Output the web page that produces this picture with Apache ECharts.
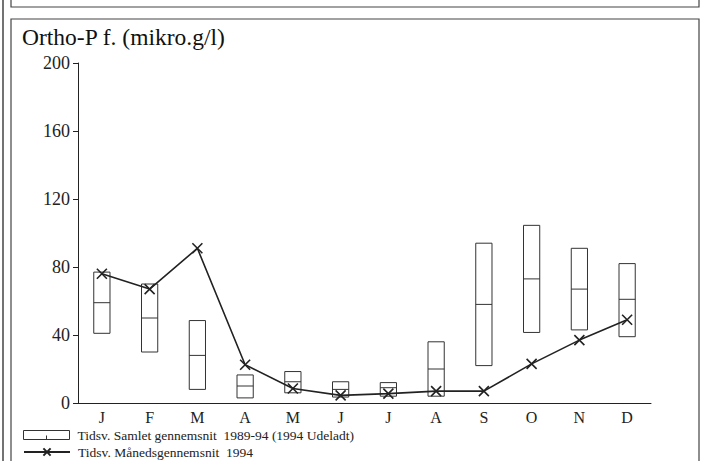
<!DOCTYPE html>
<html>
<head>
<meta charset="utf-8">
<script src="https://cdn.jsdelivr.net/npm/echarts@6/dist/echarts.min.js"></script>
<style>
  html, body { margin: 0; padding: 0; background: #fff; }
  #chart { width: 712px; height: 461px; }
</style>
</head>
<body>
<div id="chart"></div>
<script>
// Month initials along the x axis
const months = ['J', 'F', 'M', 'A', 'M', 'J', 'J', 'A', 'S', 'O', 'N', 'D'];
// Time-weighted overall average 1989-94 (1994 excluded): low, middle, high per month
const boxLow  = [41, 30, 8, 3, 6, 3.5, 4, 4, 22, 41.5, 43, 39];
const boxMid  = [59, 50, 28, 10, 12.5, 8, 9, 20, 58, 73, 67, 61];
const boxHigh = [77, 70, 48.5, 16.5, 18.5, 12.5, 12, 36, 94, 104.5, 91, 82];
// Time-weighted monthly average 1994
const month1994 = [76, 67, 91, 22.5, 8.5, 4.5, 5.5, 7, 7, 23, 37, 49];
// Y-axis tick values
const yTicks = [0, 40, 80, 120, 160, 200];

const nameBox = 'Tidsv. Samlet gennemsnit  1989-94 (1994 Udeladt)';
const nameLine = 'Tidsv. Månedsgennemsnit  1994';

const serif = 'Liberation Serif';
const ink = '#222';

const chart = echarts.init(document.getElementById('chart'), null, { renderer: 'svg' });

const boxData = months.map((m, i) => [i, boxLow[i], boxMid[i], boxHigh[i]]);

const legendText = { fontFamily: serif, fontSize: 13.5, color: ink, padding: [0, 0, 0, 3] };

chart.setOption({
  backgroundColor: '#fff',
  animation: false,
  textStyle: { fontFamily: serif },
  title: {
    text: 'Ortho-P f. (mikro.g/l)',
    left: 17,
    top: 20,
    textStyle: { fontFamily: serif, fontSize: 23.5, fontWeight: 'normal', color: '#111' }
  },
  grid: { left: 78, right: 61, top: 63, bottom: 58 },
  legend: [
    {
      left: 18,
      top: 423,
      itemWidth: 46,
      itemHeight: 9,
      selectedMode: false,
      textStyle: legendText,
      data: [{
        name: nameBox,
        icon: 'path://M0,0H46V9H0Z M23,5V9',
        itemStyle: { color: 'rgba(255,255,255,0)', borderColor: '#333', borderWidth: 1 }
      }]
    },
    {
      left: 18,
      top: 440,
      itemWidth: 46,
      itemHeight: 9,
      selectedMode: false,
      textStyle: legendText,
      data: [{ name: nameLine }]
    }
  ],
  xAxis: {
    type: 'category',
    data: months,
    boundaryGap: true,
    axisLine: { lineStyle: { color: ink, width: 1 } },
    axisTick: { inside: true, length: 4, lineStyle: { color: ink } },
    axisLabel: { fontFamily: serif, fontSize: 16, color: ink, margin: 6 },
    splitLine: { show: false }
  },
  yAxis: {
    type: 'value',
    min: yTicks[0],
    max: yTicks[yTicks.length - 1],
    interval: 40,
    axisLine: { show: true, lineStyle: { color: ink, width: 1 } },
    axisTick: { show: true, length: 5, lineStyle: { color: ink } },
    axisLabel: { fontFamily: serif, fontSize: 18, color: ink, margin: 8 },
    splitLine: { show: false }
  },
  series: [
    {
      name: nameBox,
      type: 'custom',
      z: 2,
      data: boxData,
      encode: { x: 0, y: [1, 2, 3] },
      renderItem: function (params, api) {
        const x = api.value(0);
        const top = api.coord([x, api.value(3)]);
        const bot = api.coord([x, api.value(1)]);
        const mid = api.coord([x, api.value(2)]);
        const w = api.size([1, 0])[0] * 0.34;
        return {
          type: 'group',
          children: [
            {
              type: 'rect',
              shape: { x: top[0] - w / 2, y: top[1], width: w, height: bot[1] - top[1] },
              style: { fill: 'none', stroke: '#333', lineWidth: 1 }
            },
            {
              type: 'line',
              shape: { x1: top[0] - w / 2, y1: mid[1], x2: top[0] + w / 2, y2: mid[1] },
              style: { stroke: '#333', lineWidth: 1 }
            }
          ]
        };
      }
    },
    {
      name: nameLine,
      type: 'line',
      z: 3,
      data: month1994,
      symbol: 'path://M0,0L10,10M10,0L0,10',
      symbolSize: 10,
      lineStyle: { color: ink, width: 1.6 },
      itemStyle: { color: ink, borderColor: ink, borderWidth: 1.6 }
    }
  ],
  graphic: [
    // panel frames
    { type: 'line', shape: { x1: 3, y1: 0, x2: 3, y2: 461 }, style: { stroke: '#444', lineWidth: 1.5 } },
    { type: 'rect', shape: { x: 11, y: -20, width: 688, height: 27 }, style: { fill: 'none', stroke: '#444', lineWidth: 1.2 } },
    { type: 'rect', shape: { x: 11, y: 19, width: 688, height: 460 }, style: { fill: 'none', stroke: '#444', lineWidth: 1.2 } }
  ]
});
</script>
</body>
</html>
